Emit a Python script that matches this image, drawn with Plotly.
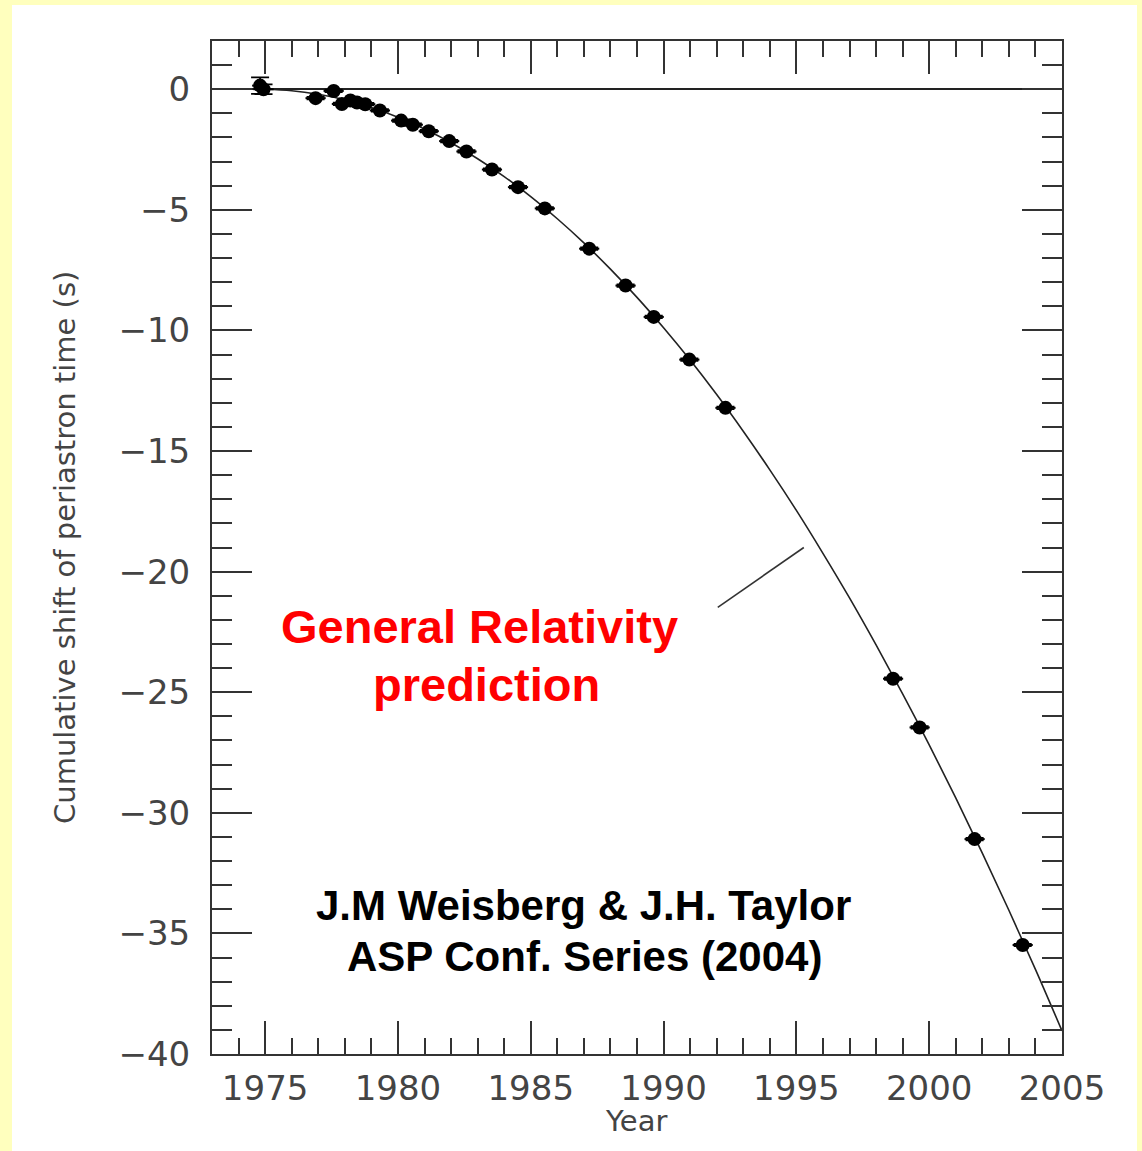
import plotly.graph_objects as go

# Observed data (year, cumulative shift in s)
year_obs = [1974.81, 1974.94, 1976.90, 1977.58, 1977.89, 1978.21, 1978.46, 1978.77,
            1979.32, 1980.12, 1980.56, 1981.16, 1981.93, 1982.58, 1983.54, 1984.52,
            1985.53, 1987.20, 1988.57, 1989.63, 1990.97, 1992.33, 1998.64, 1999.64,
            2001.71, 2003.52]
shift_obs = [0.15, 0.0, -0.37, -0.07, -0.61, -0.47, -0.55, -0.62,
             -0.88, -1.30, -1.47, -1.74, -2.15, -2.58, -3.33, -4.06,
             -4.94, -6.61, -8.14, -9.44, -11.21, -13.21, -24.44, -26.46,
             -31.09, -35.48]
err_y = [0.34, 0.2, 0.05, 0.05, 0.05, 0.05, 0.05, 0.05, 0.05, 0.05, 0.05, 0.05, 0.05,
         0.05, 0.05, 0.05, 0.05, 0.05, 0.05, 0.05, 0.05, 0.05, 0.05, 0.05, 0.05, 0.05]
err_x = [0.3, 0.38, 0.38, 0.38, 0.38, 0.38, 0.38, 0.38, 0.38, 0.38, 0.38, 0.38,
         0.38, 0.38, 0.38, 0.38, 0.38, 0.38, 0.38, 0.38, 0.38, 0.38, 0.38, 0.38,
         0.38, 0.38]

# General Relativity prediction curve
year_gr = [1975, 1976, 1977, 1978, 1979, 1980, 1981, 1982, 1983, 1984, 1985,
           1986, 1987, 1988, 1989, 1990, 1991, 1992, 1993, 1994, 1995, 1996,
           1997, 1998, 1999, 2000, 2001, 2002, 2003, 2004, 2005]
shift_gr = [0.0, -0.06, -0.21, -0.44, -0.76, -1.16, -1.65, -2.22, -2.88, -3.62,
            -4.45, -5.37, -6.37, -7.46, -8.63, -9.89, -11.23, -12.66, -14.18,
            -15.78, -17.46, -19.24, -21.09, -23.04, -25.07, -27.18, -29.38,
            -31.67, -34.04, -36.49, -39.04]

W, H = 1142, 1151
L, R, T, B = 212, 1062, 41, 1054
axis_col = "#333333"
txt_col = "#444444"
font_fam = "DejaVu Sans"


def px(xp):
    return (xp - L) / (R - L)


def py(yp):
    return (B - yp) / (B - T)


fig = go.Figure()
fig.add_trace(go.Scatter(
    x=year_gr, y=shift_gr, mode="lines", line=dict(color="#222222", width=1.6, shape="spline"),
    showlegend=False, hoverinfo="skip"))
fig.add_trace(go.Scatter(
    x=year_obs, y=shift_obs, mode="markers",
    marker=dict(color="black", size=14, line=dict(width=0)),
    error_y=dict(type="data", array=err_y, color="black", thickness=1.8, width=9),
    error_x=dict(type="data", array=err_x, color="black", thickness=2, width=0),
    showlegend=False))

fig.update_layout(
    width=W, height=H,
    margin=dict(l=L, r=W - R, t=T, b=H - B),
    paper_bgcolor="#FFFFBE",
    plot_bgcolor="white",
    font=dict(family=font_fam, color=txt_col),
    xaxis=dict(
        range=[1973, 2005], tick0=1975, dtick=5, ticks="inside", ticklen=33,
        tickwidth=1.8, tickcolor=axis_col, showline=True, linecolor=axis_col,
        linewidth=2, mirror="ticks", showgrid=False, zeroline=False,
        tickfont=dict(size=34, color=txt_col, family=font_fam),
        ticklabelstandoff=3,
        minor=dict(dtick=1, tick0=1975, ticks="inside", ticklen=16, tickwidth=1.8,
                   tickcolor=axis_col, showgrid=False),
    ),
    yaxis=dict(
        range=[-40, 2], tick0=0, dtick=5, ticks="inside", ticklen=40,
        tickwidth=1.8, tickcolor=axis_col, showline=True, linecolor=axis_col,
        linewidth=2, mirror="ticks", showgrid=False, zeroline=True,
        zerolinecolor="#222222", zerolinewidth=1.6,
        tickfont=dict(size=34, color=txt_col, family=font_fam),
        ticklabelstandoff=13,
        minor=dict(dtick=1, tick0=0, ticks="inside", ticklen=20, tickwidth=1.8,
                   tickcolor=axis_col, showgrid=False),
    ),
    shapes=[
        dict(type="rect", xref="paper", yref="paper", x0=px(12), x1=px(1137),
             y0=py(1160), y1=py(5), fillcolor="white", line=dict(width=0), layer="below"),
        dict(type="line", xref="x", yref="y", x0=1992.04, y0=-21.48, x1=1995.28, y1=-19.0,
             line=dict(color="#333333", width=1.6)),
    ],
    annotations=[
        dict(text="Year", xref="paper", yref="paper", x=px(636), y=py(1121),
             showarrow=False, xanchor="center", yanchor="middle",
             font=dict(size=29, color=txt_col, family=font_fam)),
        dict(text="Cumulative shift of periastron time (s)", xref="paper", yref="paper",
             x=px(65), y=py(548), textangle=-90, showarrow=False,
             xanchor="center", yanchor="middle",
             font=dict(size=29, color=txt_col, family=font_fam)),
        dict(text="<b>General Relativity</b>", xref="paper", yref="paper",
             x=px(479), y=py(626), showarrow=False, xanchor="center", yanchor="middle",
             font=dict(size=47, color="#FF0000", family="Liberation Sans")),
        dict(text="<b>prediction</b>", xref="paper", yref="paper",
             x=px(486), y=py(684), showarrow=False, xanchor="center", yanchor="middle",
             font=dict(size=47, color="#FF0000", family="Liberation Sans")),
        dict(text="<b>J.M Weisberg &amp; J.H. Taylor</b>", xref="paper", yref="paper",
             x=px(583), y=py(905), showarrow=False, xanchor="center", yanchor="middle",
             font=dict(size=42, color="black", family="Liberation Sans")),
        dict(text="<b>ASP Conf. Series (2004)</b>", xref="paper", yref="paper",
             x=px(584), y=py(956), showarrow=False, xanchor="center", yanchor="middle",
             font=dict(size=42, color="black", family="Liberation Sans")),
    ],
)

fig.write_html("out.html", config={"displayModeBar": False},
               post_script="document.body.style.margin='0';document.body.style.background='#FFFFBE';")
